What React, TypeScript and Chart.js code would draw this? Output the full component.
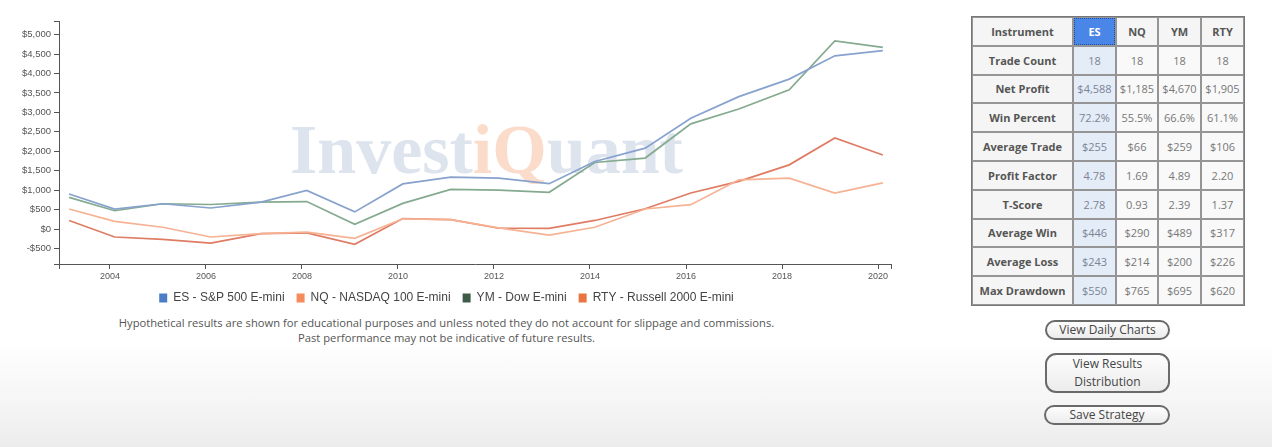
import React, { useEffect, useRef } from 'react';
import { Chart, registerables } from 'chart.js';

Chart.register(...registerables);

// ---- data ----
const years = [2003.15, 2004.1, 2005.1, 2006.1, 2007.15, 2008.1, 2009.1, 2010.1, 2011.1, 2012.1, 2013.15, 2014.1, 2015.15, 2016.1, 2017.1, 2018.15, 2019.1, 2020.1];
const esValues = [900, 510, 650, 540, 690, 990, 440, 1160, 1335, 1310, 1165, 1735, 2080, 2850, 3405, 3855, 4455, 4588];
const nqValues = [515, 195, 45, -205, -120, -78, -240, 262, 240, 28, -155, 45, 515, 625, 1265, 1310, 925, 1185];
const ymValues = [815, 470, 650, 630, 690, 705, 120, 660, 1020, 1000, 945, 1710, 1825, 2705, 3085, 3580, 4840, 4670];
const rtyValues = [220, -205, -265, -365, -120, -100, -395, 268, 240, 20, 15, 220, 520, 925, 1225, 1650, 2340, 1905];

const seriesLabels = ['ES - S&P 500 E-mini', 'NQ - NASDAQ 100 E-mini', 'YM - Dow E-mini', 'RTY - Russell 2000 E-mini'];
const lineColors = ['#86a2cd', '#f6b293', '#85aa8f', '#df7c64'];
const legendColors = ['#4a7cc7', '#f58a5b', '#3e5d48', '#ea7440'];

const xTickValues = [2004, 2006, 2008, 2010, 2012, 2014, 2016, 2018, 2020];
const yTickValues = [-500, 0, 500, 1000, 1500, 2000, 2500, 3000, 3500, 4000, 4500, 5000];
const xMin = 2002.94;
const xMax = 2020.27;
const yMin = -900;
const yMax = 5350;

const tableHeaders = ['Instrument', 'ES', 'NQ', 'YM', 'RTY'];
const statLabels = ['Trade Count', 'Net Profit', 'Win Percent', 'Average Trade', 'Profit Factor', 'T-Score', 'Average Win', 'Average Loss', 'Max Drawdown'];
const esStats = ['18', '$4,588', '72.2%', '$255', '4.78', '2.78', '$446', '$243', '$550'];
const nqStats = ['18', '$1,185', '55.5%', '$66', '1.69', '0.93', '$290', '$214', '$765'];
const ymStats = ['18', '$4,670', '66.6%', '$259', '4.89', '2.39', '$489', '$200', '$695'];
const rtyStats = ['18', '$1,905', '61.1%', '$106', '2.20', '1.37', '$317', '$226', '$620'];

const disclaimerLines = [
  'Hypothetical results are shown for educational purposes and unless noted they do not account for slippage and commissions.',
  'Past performance may not be indicative of future results.',
];

const seriesValues = [esValues, nqValues, ymValues, rtyValues];

const fmtMoney = (v: number) => (v < 0 ? '-$' : '$') + Math.abs(v).toLocaleString('en-US');

const axisFont = { family: "'Liberation Sans', Arial, sans-serif", size: 9 };

export default function App() {
  const canvasRef = useRef<HTMLCanvasElement | null>(null);

  useEffect(() => {
    if (!canvasRef.current) return;
    const chart = new Chart(canvasRef.current, {
      type: 'line',
      data: {
        datasets: seriesLabels.map((label, i) => ({
          label,
          data: years.map((x, j) => ({ x, y: seriesValues[i][j] })),
          borderColor: lineColors[i],
          backgroundColor: legendColors[i],
          borderWidth: 1.7,
          pointRadius: 0,
          tension: 0,
          fill: false,
        })),
      },
      options: {
        animation: false,
        responsive: false,
        layout: { padding: { top: 21, left: 0, right: 0, bottom: 0 } },
        plugins: {
          tooltip: { enabled: false },
          legend: {
            position: 'bottom',
            labels: {
              boxWidth: 8,
              boxHeight: 9,
              padding: 12,
              color: '#444',
              font: { family: "'Liberation Sans', Arial, sans-serif", size: 12 },
              generateLabels: (c: any) =>
                c.data.datasets.map((ds: any, i: number) => ({
                  text: ds.label,
                  fillStyle: legendColors[i],
                  strokeStyle: legendColors[i],
                  lineWidth: 0,
                  hidden: false,
                  datasetIndex: i,
                  fontColor: '#444',
                })),
            },
          },
        },
        scales: {
          x: {
            type: 'linear',
            min: xMin,
            max: xMax,
            afterBuildTicks: (scale: any) => {
              scale.ticks = [xMin, ...xTickValues, xMax].map((v) => ({ value: v }));
            },
            afterFit: (scale: any) => {
              scale.height = 16;
            },
            ticks: {
              autoSkip: false,
              maxRotation: 0,
              padding: 2,
              color: '#555',
              font: axisFont,
              callback: (v: any) => (xTickValues.includes(Number(v)) ? String(v) : ''),
            },
            grid: { drawOnChartArea: false, drawTicks: true, tickLength: 5, color: '#555' },
            border: { display: true, color: '#555', width: 1 },
          },
          y: {
            type: 'linear',
            min: yMin,
            max: yMax,
            afterBuildTicks: (scale: any) => {
              scale.ticks = [yMin, ...yTickValues, yMax].map((v) => ({ value: v }));
            },
            afterFit: (scale: any) => {
              scale.width = 59;
            },
            ticks: {
              autoSkip: false,
              padding: 3,
              color: '#555',
              font: { ...axisFont, size: 9.5 },
              callback: (v: any) => (yTickValues.includes(Number(v)) ? fmtMoney(Number(v)) : ''),
            },
            grid: { drawOnChartArea: false, drawTicks: true, tickLength: 5, color: '#555' },
            border: { display: true, color: '#555', width: 1 },
          },
        },
      } as any,
    });
    return () => chart.destroy();
  }, []);

  const cellBase: React.CSSProperties = {
    border: '1px solid #959595',
    textAlign: 'center',
    verticalAlign: 'middle',
    padding: 0,
    background: '#fafafa',
    color: '#777',
  };

  const allStats = [esStats, nqStats, ymStats, rtyStats];
  const colWidths = [101, 43, 42, 43, 43];

  const btn: React.CSSProperties = {
    position: 'absolute',
    boxSizing: 'border-box',
    border: '2px solid #6a6a6a',
    borderRadius: 11,
    background: 'linear-gradient(#fdfdfd, #ececec)',
    color: '#444',
    fontFamily: "'Open Sans', sans-serif",
    fontSize: 12,
    textAlign: 'center',
  };

  return (
    <div
      style={{
        position: 'fixed',
        left: 0,
        top: 0,
        width: 1272,
        height: 447,
        overflow: 'hidden',
        background: 'linear-gradient(to bottom, #ffffff 0px, #ffffff 340px, #f4f4f4 410px, #ececec 447px)',
      }}
    >
      <div
        style={{
          position: 'absolute',
          left: 290,
          top: 115,
          fontFamily: "'Liberation Serif', 'Times New Roman', serif",
          fontWeight: 'bold',
          fontSize: 70,
          lineHeight: '70px',
          whiteSpace: 'nowrap',
          color: '#dde4ee',
          zIndex: 0,
        }}
      >
        Invest<span style={{ color: '#fbdccb' }}>iQ</span>uant
      </div>
      <div style={{ position: 'absolute', left: 0, top: 0, width: 893, height: 314, zIndex: 1 }}>
        <canvas ref={canvasRef} width={893} height={314} style={{ width: 893, height: 314, display: 'block' }} />
      </div>
      <div
        style={{
          position: 'absolute',
          left: 0,
          top: 315,
          width: 893,
          textAlign: 'center',
          fontFamily: "'Open Sans', sans-serif",
          fontSize: 11.2,
          lineHeight: '15px',
          color: '#555',
        }}
      >
        {disclaimerLines.map((l) => (
          <div key={l}>{l}</div>
        ))}
      </div>
      <table
        style={{
          position: 'absolute',
          left: 971,
          top: 16,
          width: 272,
          height: 290,
          borderCollapse: 'separate',
          borderSpacing: 0,
          border: '1px solid #777',
          fontFamily: "'Open Sans', sans-serif",
          fontSize: 11,
          tableLayout: 'fixed',
        }}
      >
        <colgroup>
          {colWidths.map((w, i) => (
            <col key={i} style={{ width: w }} />
          ))}
        </colgroup>
        <tbody>
          <tr>
            {tableHeaders.map((h, i) => (
              <td
                key={h}
                style={{
                  ...cellBase,
                  fontWeight: 'bold',
                  color: i === 1 ? '#ffffff' : '#555',
                  background: i === 1 ? '#4a86e8' : '#f5f5f5',
                  outline: i === 1 ? '1px dotted #1f4f9e' : undefined,
                  outlineOffset: i === 1 ? -2 : undefined,
                }}
              >
                {h}
              </td>
            ))}
          </tr>
          {statLabels.map((label, r) => (
            <tr key={label}>
              <td style={{ ...cellBase, fontWeight: 'bold', color: '#555', background: '#f5f5f5' }}>{label}</td>
              {allStats.map((col, c) => (
                <td key={c} style={{ ...cellBase, background: c === 0 ? '#e4ecf8' : '#f9f9f9', color: c === 0 ? '#7a8495' : '#777' }}>
                  {col[r]}
                </td>
              ))}
            </tr>
          ))}
        </tbody>
      </table>
      <div style={{ ...btn, left: 1045, top: 320, width: 125, height: 20, lineHeight: '16px' }}>View Daily Charts</div>
      <div style={{ ...btn, left: 1045, top: 353, width: 125, height: 40, lineHeight: '18px' }}>
        View Results
        <br />
        Distribution
      </div>
      <div style={{ ...btn, left: 1044, top: 405, width: 126, height: 20, lineHeight: '16px' }}>Save Strategy</div>
    </div>
  );
}
